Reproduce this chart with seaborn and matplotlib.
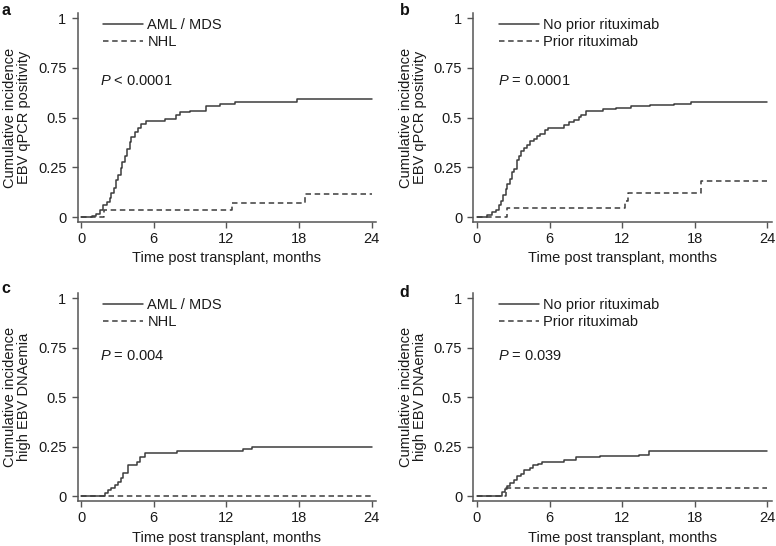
import matplotlib
matplotlib.use("Agg")
import matplotlib.pyplot as plt
import seaborn as sns

# panel a: EBV qPCR positivity, by diagnosis
a_aml_t = [0, 0.85, 1.26, 1.54, 1.81, 2.09, 2.36, 2.5, 2.72, 2.91, 3.05, 3.27, 3.4, 3.6, 3.81,
           4.0, 4.15, 4.42, 4.7, 4.97, 5.38, 6.95, 7.85, 8.13, 9.0, 10.35, 11.5, 12.7, 17.8, 24]
a_aml_y = [0, 0.008, 0.017, 0.035, 0.06, 0.077, 0.097, 0.124, 0.147, 0.186, 0.211, 0.245, 0.275,
           0.31, 0.345, 0.378, 0.404, 0.429, 0.446, 0.466, 0.484, 0.492, 0.513, 0.526, 0.534,
           0.558, 0.568, 0.578, 0.596, 0.596]
a_nhl_t = [0, 1.9, 12.5, 18.5, 24]
a_nhl_y = [0, 0.038, 0.072, 0.116, 0.116]

# panel b: EBV qPCR positivity, by prior rituximab
b_norit_t = [0, 0.85, 1.26, 1.54, 1.81, 1.95, 2.17, 2.36, 2.5, 2.72, 2.91, 3.05, 3.27, 3.46, 3.65,
             3.87, 4.15, 4.42, 4.7, 4.97, 5.25, 5.66, 5.85, 7.17, 7.58, 7.99, 8.4, 8.62, 9.04,
             10.4, 11.5, 12.74, 14.33, 16.3, 17.7, 24]
b_norit_y = [0, 0.01, 0.024, 0.035, 0.06, 0.08, 0.11, 0.144, 0.169, 0.194, 0.228, 0.243, 0.286,
             0.31, 0.332, 0.348, 0.365, 0.382, 0.395, 0.409, 0.42, 0.436, 0.446, 0.462, 0.476,
             0.487, 0.501, 0.513, 0.531, 0.543, 0.549, 0.558, 0.565, 0.571, 0.581, 0.581]
b_rit_t = [0, 2.5, 12.2, 12.45, 18.5, 24]
b_rit_y = [0, 0.044, 0.08, 0.122, 0.181, 0.181]

# panel c: high EBV DNAemia, by diagnosis
c_aml_t = [0, 2.0, 2.22, 2.5, 2.77, 3.05, 3.27, 3.46, 3.87, 4.64, 4.83, 5.25, 7.9, 13.4, 14.15, 24]
c_aml_y = [0, 0.017, 0.03, 0.042, 0.059, 0.072, 0.094, 0.118, 0.157, 0.173, 0.199, 0.216,
           0.227, 0.239, 0.25, 0.25]
c_nhl_t = [0, 24]
c_nhl_y = [0, 0]

# panel d: high EBV DNAemia, by prior rituximab
d_norit_t = [0, 2.09, 2.28, 2.5, 2.77, 3.05, 3.32, 3.6, 3.87, 4.37, 4.64, 5.02, 5.38, 7.2,
             8.17, 10.2, 13.4, 14.2, 24]
d_norit_y = [0, 0.022, 0.039, 0.05, 0.067, 0.084, 0.101, 0.114, 0.131, 0.143, 0.157, 0.165,
             0.175, 0.185, 0.197, 0.205, 0.21, 0.227, 0.227]
d_rit_t = [0, 2.4, 24]
d_rit_y = [0, 0.042, 0.042]

dx_labels = ['AML / MDS', 'NHL']
rit_labels = ['No prior rituximab', 'Prior rituximab']
y_ticks = [0, 0.25, 0.5, 0.75, 1]
y_ticklabels = ['0', '0.25', '0.5', '0.75', '1']
x_ticks = [0, 6, 12, 18, 24]

sns.set_style('ticks')
plt.rcParams['font.family'] = ['Liberation Sans', 'DejaVu Sans']
plt.rcParams['mathtext.fontset'] = 'custom'
plt.rcParams['mathtext.rm'] = 'Liberation Sans'
plt.rcParams['mathtext.it'] = 'Liberation Sans:italic'

LINE = '#3c3c3c'
AXC = '#555555'
TXT = '#1a1a1a'
FS = 10.5


def plot_panel(ax, solid, dashed, labels, pval, ylabel, pval_x, pval_y):
    sns.lineplot(x=solid[0], y=solid[1], ax=ax, drawstyle='steps-post', color=LINE, lw=1.1,
                 label=labels[0], estimator=None, sort=False)
    sns.lineplot(x=dashed[0], y=dashed[1], ax=ax, drawstyle='steps-post', color=LINE, lw=1.1,
                 linestyle=(0, (3.6, 2.4)), label=labels[1], estimator=None, sort=False)
    ax.set_xlim(-0.3, 24.4)
    ax.set_ylim(-0.025, 1.025)
    ax.set_xticks(x_ticks)
    ax.set_xticklabels([str(v) for v in x_ticks])
    ax.set_yticks(y_ticks)
    ax.set_yticklabels(y_ticklabels)
    ax.tick_params(axis='both', labelsize=FS, colors=AXC, labelcolor=TXT, width=1.0, length=4)
    ax.tick_params(axis='x', pad=3)
    ax.tick_params(axis='y', pad=4)
    for s in ['left', 'bottom']:
        ax.spines[s].set_color(AXC)
        ax.spines[s].set_linewidth(1.1)
    sns.despine(ax=ax)
    ax.set_xlabel('Time post transplant, months', fontsize=FS, color=TXT, labelpad=4)
    ax.set_ylabel(ylabel, fontsize=FS, color=TXT, labelpad=5, linespacing=1.0)
    ax.legend(loc='upper left', bbox_to_anchor=(0.085, 0.975), frameon=False, fontsize=FS,
              borderaxespad=0, borderpad=0, handlelength=2.75, handletextpad=0.3,
              labelspacing=0.2, labelcolor=TXT)
    ax.text(pval_x, pval_y, pval, fontsize=FS, va='center', ha='left', color=TXT)


fig = plt.figure(figsize=(7.76, 5.46), dpi=100)
ax_a = fig.add_axes([0.100, 0.593, 0.385, 0.383])
ax_b = fig.add_axes([0.610, 0.593, 0.385, 0.383])
ax_c = fig.add_axes([0.100, 0.082, 0.385, 0.381])
ax_d = fig.add_axes([0.610, 0.082, 0.385, 0.381])

plot_panel(ax_a, (a_aml_t, a_aml_y), (a_nhl_t, a_nhl_y), dx_labels, '$P$ < 0.0001',
           'Cumulative incidence\nEBV qPCR positivity', 1.56, 0.683)
plot_panel(ax_b, (b_norit_t, b_norit_y), (b_rit_t, b_rit_y), rit_labels, '$P$ = 0.0001',
           'Cumulative incidence\nEBV qPCR positivity', 1.73, 0.683)
plot_panel(ax_c, (c_aml_t, c_aml_y), (c_nhl_t, c_nhl_y), dx_labels, '$P$ = 0.004',
           'Cumulative incidence\nhigh EBV DNAemia', 1.56, 0.707)
plot_panel(ax_d, (d_norit_t, d_norit_y), (d_rit_t, d_rit_y), rit_labels, '$P$ = 0.039',
           'Cumulative incidence\nhigh EBV DNAemia', 1.73, 0.707)

for letter, x, y in [('a', 0.002, 0.9725), ('b', 0.515, 0.9725), ('c', 0.002, 0.463), ('d', 0.515, 0.456)]:
    fig.text(x, y, letter, fontsize=11.5, fontweight='bold', ha='left', va='baseline', color='#111111')

fig.savefig('out.png', dpi=100)
